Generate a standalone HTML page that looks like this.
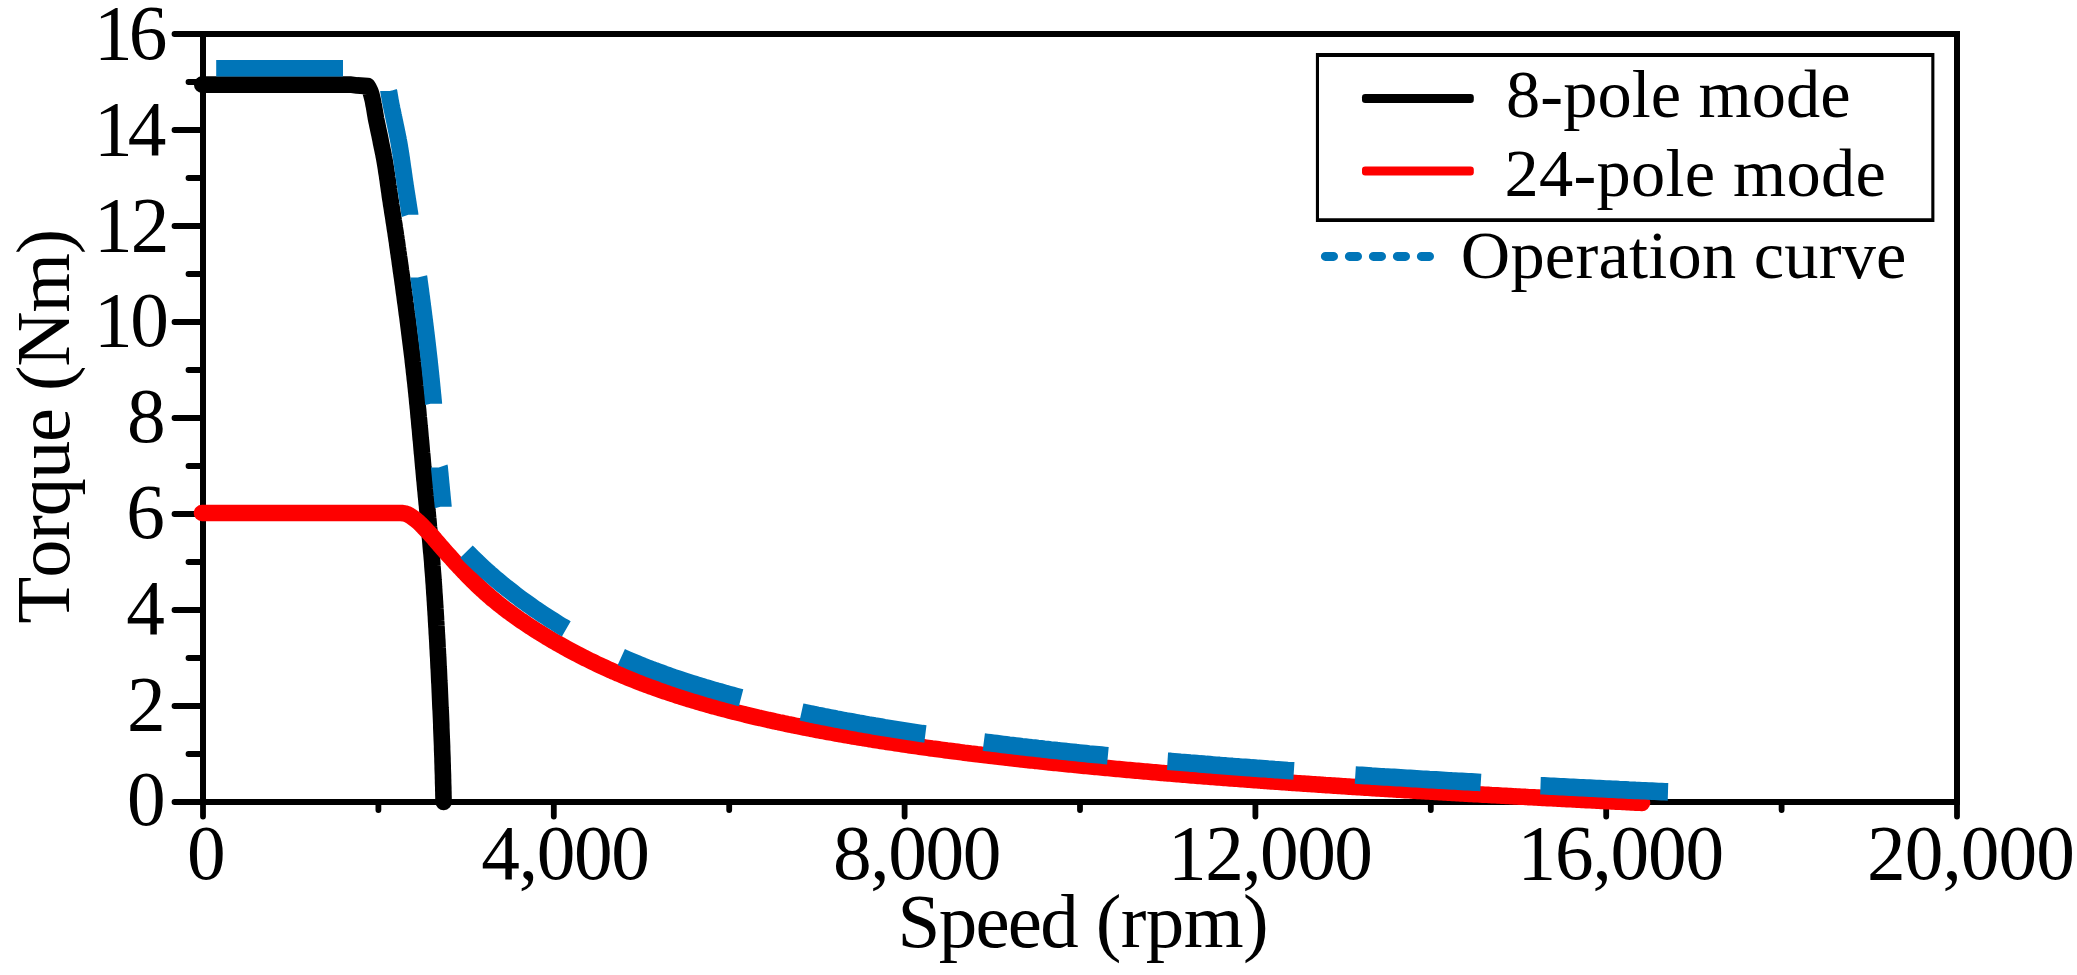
<!DOCTYPE html>
<html lang="en">
<head>
<meta charset="utf-8">
<title>Torque-speed curves</title>
<style>
html,body{margin:0;padding:0;background:#fff;}
body{width:2077px;height:975px;overflow:hidden;}
svg{display:block;}
</style>
</head>
<body>
<svg width="2077" height="975" viewBox="0 0 2077 975" role="img" aria-label="Torque versus speed for 8-pole mode, 24-pole mode and operation curve">
<rect width="2077" height="975" fill="#fff"/>
<g fill="none" stroke="#000">
<rect x="203.0" y="34.0" width="1754.0" height="768.0" stroke-width="6.0"/>
<path d="M203.0,802.0H174.5M203.0,754.0H188.5M203.0,706.0H174.5M203.0,658.0H188.5M203.0,610.0H174.5M203.0,562.0H188.5M203.0,514.0H174.5M203.0,466.0H188.5M203.0,418.0H174.5M203.0,370.0H188.5M203.0,322.0H174.5M203.0,274.0H188.5M203.0,226.0H174.5M203.0,178.0H188.5M203.0,130.0H174.5M203.0,82.0H188.5M203.0,34.0H174.5M203.0,802.0V816.5M378.4,802.0V810.0M553.8,802.0V816.5M729.2,802.0V810.0M904.6,802.0V816.5M1080.0,802.0V810.0M1255.4,802.0V816.5M1430.8,802.0V810.0M1606.2,802.0V816.5M1781.6,802.0V810.0M1957.0,802.0V816.5" stroke-width="5.8" stroke-linecap="round"/>
</g>
<g fill="none" stroke-linejoin="round">
<path d="M202.2,84.6 L350.0,84.6 L357.0,85.4 L367.6,86.1 L368.8,88.2 L369.9,90.4 L370.8,92.6 L371.4,94.8 L372.0,97.1 L372.6,99.5 L373.1,101.8 L373.5,104.2 L374.0,106.6 L374.4,109.0 L374.8,111.4 L375.2,113.8 L375.6,116.2 L376.0,118.6 L376.5,121.0 L377.0,123.3 L377.5,125.7 L378.0,128.1 L378.5,130.4 L379.0,132.8 L379.5,135.1 L380.0,137.5 L380.5,139.9 L380.9,142.2 L381.4,144.6 L381.9,147.0 L382.4,149.3 L382.9,151.7 L383.4,154.0 L383.8,156.4 L384.3,158.8 L384.7,161.2 L385.1,163.5 L385.5,165.9 L385.9,168.3 L386.2,170.7 L386.6,173.1 L387.0,175.4 L387.3,177.8 L387.7,180.2 L388.0,182.6 L388.3,185.0 L388.7,187.4 L389.0,189.8 L389.4,192.2 L389.7,194.6 L390.0,196.9 L390.4,199.3 L390.8,201.7 L391.1,204.1 L391.5,206.5 L391.9,208.9 L392.2,211.2 L392.6,213.6 L393.0,216.0 L393.4,218.4 L393.7,220.8 L394.1,223.2 L394.5,225.5 L394.8,227.9 L395.2,230.3 L395.6,232.7 L395.9,235.1 L396.3,237.5 L396.6,239.9 L397.0,242.2 L397.3,244.6 L397.6,247.0 L398.0,249.4 L398.3,251.8 L398.7,254.2 L399.0,256.6 L399.4,259.0 L399.7,261.3 L400.0,263.7 L400.4,266.1 L400.7,268.5 L401.0,270.9 L401.4,273.3 L401.7,275.7 L402.1,278.1 L402.4,280.5 L402.7,282.8 L403.1,285.2 L403.4,287.6 L403.7,290.0 L404.0,292.4 L404.4,294.8 L404.7,297.2 L405.0,299.6 L405.3,302.0 L405.7,304.4 L406.0,306.8 L406.3,309.1 L406.6,311.5 L406.9,313.9 L407.3,316.3 L407.6,318.7 L407.9,321.1 L408.2,323.5 L408.5,325.9 L408.8,328.3 L409.1,330.7 L409.4,333.1 L409.7,335.5 L410.0,337.9 L410.3,340.2 L410.6,342.6 L410.9,345.0 L411.2,347.4 L411.5,349.8 L411.8,352.2 L412.1,354.6 L412.4,357.0 L412.7,359.4 L412.9,361.8 L413.2,364.2 L413.5,366.6 L413.8,369.0 L414.0,371.4 L414.3,373.8 L414.6,376.2 L414.8,378.6 L415.1,381.0 L415.4,383.4 L415.6,385.8 L415.9,388.2 L416.1,390.6 L416.4,393.0 L416.6,395.4 L416.9,397.8 L417.1,400.2 L417.3,402.6 L417.6,405.0 L417.8,407.4 L418.1,409.8 L418.3,412.2 L418.5,414.6 L418.7,417.0 L419.0,419.4 L419.2,421.8 L419.4,424.2 L419.6,426.6 L419.9,429.0 L420.1,431.4 L420.3,433.8 L420.5,436.2 L420.7,438.6 L421.0,441.0 L421.2,443.4 L421.4,445.8 L421.6,448.2 L421.8,450.6 L422.0,453.0 L422.3,455.4 L422.5,457.8 L422.7,460.2 L422.9,462.6 L423.1,465.0 L423.3,467.4 L423.6,469.8 L423.8,472.2 L424.0,474.6 L424.2,477.0 L424.4,479.4 L424.7,481.8 L424.9,484.2 L425.1,486.6 L425.3,489.0 L425.6,491.4 L425.8,493.8 L426.0,496.2 L426.3,498.6 L426.5,501.0 L426.7,503.4 L427.0,505.8 L427.2,508.2 L427.4,510.6 L427.7,513.0 L427.9,515.4 L428.1,517.8 L428.4,520.3 L428.6,522.7 L428.8,525.1 L429.0,527.5 L429.3,529.9 L429.5,532.3 L429.7,534.7 L429.9,537.1 L430.2,539.5 L430.4,541.9 L430.6,544.3 L430.8,546.7 L431.0,549.1 L431.2,551.5 L431.5,553.9 L431.7,556.3 L431.9,558.7 L432.1,561.1 L432.3,563.5 L432.4,565.9 L432.6,568.3 L432.8,570.7 L433.0,573.1 L433.2,575.5 L433.4,577.9 L433.5,580.3 L433.7,582.7 L433.9,585.1 L434.0,587.5 L434.2,589.9 L434.3,592.4 L434.5,594.8 L434.7,597.2 L434.8,599.6 L435.0,602.0 L435.1,604.4 L435.3,606.8 L435.4,609.2 L435.6,611.6 L435.7,614.0 L435.9,616.4 L436.0,618.8 L436.1,621.2 L436.3,623.7 L436.4,626.1 L436.6,628.5 L436.7,630.9 L436.8,633.3 L437.0,635.7 L437.1,638.1 L437.3,640.5 L437.4,642.9 L437.5,645.3 L437.6,647.7 L437.8,650.1 L437.9,652.6 L438.0,655.0 L438.2,657.4 L438.3,659.8 L438.4,662.2 L438.5,664.6 L438.6,667.0 L438.8,669.4 L438.9,671.8 L439.0,674.2 L439.1,676.7 L439.2,679.1 L439.3,681.5 L439.5,683.9 L439.6,686.3 L439.7,688.7 L439.8,691.1 L439.9,693.5 L440.0,695.9 L440.1,698.3 L440.2,700.7 L440.3,703.2 L440.4,705.6 L440.5,708.0 L440.7,710.4 L440.8,712.8 L440.9,715.2 L441.0,717.6 L441.1,720.0 L441.2,722.4 L441.3,724.8 L441.3,727.3 L441.4,729.7 L441.5,732.1 L441.6,734.5 L441.7,736.9 L441.8,739.3 L441.9,741.7 L442.0,744.1 L442.1,746.5 L442.1,749.0 L442.2,751.4 L442.3,753.8 L442.4,756.2 L442.5,758.6 L442.5,761.0 L442.6,763.4 L442.7,765.8 L442.7,768.2 L442.8,770.7 L442.9,773.1 L443.0,775.5 L443.0,777.9 L443.1,780.3 L443.1,782.7 L443.2,785.1 L443.3,787.5 L443.3,789.9 L443.4,792.4 L443.4,794.8 L443.5,797.2 L443.5,799.6 L443.6,802.0" stroke="#000" stroke-width="16.6" stroke-linecap="round"/>
<path d="M202.0,513.0 L204.2,513.0 L206.3,513.0 L208.5,513.0 L210.6,513.0 L212.8,513.0 L214.9,513.0 L217.1,513.0 L219.3,513.0 L221.4,513.0 L223.6,513.0 L225.7,513.0 L227.9,513.0 L230.1,513.0 L232.2,513.0 L234.4,513.0 L236.5,513.0 L238.7,513.0 L240.8,513.0 L243.0,513.0 L245.2,513.0 L247.3,513.0 L249.5,513.0 L251.6,513.0 L253.8,513.0 L255.9,513.0 L258.1,513.0 L260.3,513.0 L262.4,513.0 L264.6,513.0 L266.7,513.0 L268.9,513.0 L271.1,513.0 L273.2,513.0 L275.4,513.0 L277.5,513.0 L279.7,513.0 L281.8,513.0 L284.0,513.0 L286.2,513.0 L288.3,513.0 L290.5,513.0 L292.6,513.0 L294.8,513.0 L297.0,513.0 L299.1,513.0 L301.3,513.0 L303.4,513.0 L305.6,513.0 L307.7,513.0 L309.9,513.0 L312.1,513.0 L314.2,513.0 L316.4,513.0 L318.5,513.0 L320.7,513.0 L322.9,513.0 L325.0,513.0 L327.2,513.0 L329.3,513.0 L331.5,513.0 L333.6,513.0 L335.8,513.0 L338.0,513.0 L340.1,513.0 L342.3,513.0 L344.4,513.0 L346.6,513.0 L348.8,513.0 L350.9,513.0 L353.1,513.0 L355.2,513.0 L357.4,513.0 L359.6,513.0 L361.7,513.0 L363.9,513.0 L366.0,513.0 L368.2,513.0 L370.3,513.0 L372.5,513.0 L374.7,513.0 L376.8,513.0 L379.0,513.0 L381.1,513.0 L383.3,513.0 L385.4,513.0 L387.6,513.0 L389.8,513.0 L391.9,513.0 L394.1,513.0 L396.2,513.0 L398.4,513.0 L400.5,513.0 L402.7,513.1 L404.8,513.4 L406.9,514.1 L408.8,515.0 L410.7,516.1 L412.5,517.3 L414.2,518.6 L415.9,519.9 L417.6,521.3 L419.2,522.8 L420.7,524.2 L422.3,525.8 L423.7,527.4 L425.2,528.9 L426.7,530.5 L428.2,532.0 L429.7,533.6 L431.2,535.2 L432.6,536.8 L434.0,538.4 L435.4,540.1 L436.8,541.7 L438.2,543.3 L439.6,545.0 L441.0,546.6 L442.5,548.2 L443.9,549.9 L445.3,551.5 L446.7,553.1 L448.2,554.7 L449.6,556.3 L451.1,557.9 L452.5,559.5 L453.9,561.1 L455.4,562.7 L456.9,564.3 L458.3,565.9 L459.8,567.5 L461.3,569.0 L462.8,570.6 L464.3,572.2 L465.8,573.7 L467.3,575.3 L468.8,576.8 L470.3,578.3 L471.8,579.9 L473.4,581.4 L474.9,582.9 L476.4,584.4 L478.0,585.9 L479.6,587.4 L481.2,588.8 L482.7,590.3 L484.3,591.8 L485.9,593.2 L487.5,594.6 L489.2,596.0 L490.8,597.5 L492.4,598.9 L494.1,600.2 L495.8,601.6 L497.4,603.0 L499.1,604.3 L500.8,605.7 L502.5,607.0 L504.2,608.3 L505.9,609.7 L507.6,611.0 L509.4,612.2 L511.1,613.5 L512.9,614.8 L514.6,616.0 L516.4,617.3 L518.1,618.5 L519.9,619.8 L521.7,621.0 L523.5,622.2 L525.3,623.4 L527.1,624.6 L528.9,625.8 L530.7,627.0 L532.5,628.1 L534.3,629.3 L536.1,630.5 L537.9,631.6 L539.8,632.8 L541.6,633.9 L543.5,635.0 L545.3,636.1 L547.1,637.3 L549.0,638.4 L550.9,639.5 L552.7,640.6 L554.6,641.6 L556.4,642.7 L558.3,643.8 L560.2,644.9 L562.1,645.9 L564.0,647.0 L565.8,648.0 L567.7,649.1 L569.6,650.1 L571.5,651.1 L573.4,652.1 L575.3,653.1 L577.3,654.1 L579.2,655.1 L581.1,656.1 L583.0,657.1 L584.9,658.1 L586.9,659.0 L588.8,660.0 L590.7,661.0 L592.7,661.9 L594.6,662.8 L596.6,663.8 L598.5,664.7 L600.5,665.6 L602.4,666.5 L604.4,667.4 L606.3,668.3 L608.3,669.2 L610.3,670.1 L612.3,671.0 L614.2,671.8 L616.2,672.7 L618.2,673.6 L620.2,674.4 L622.2,675.2 L624.2,676.1 L626.1,676.9 L628.1,677.7 L630.1,678.5 L632.1,679.3 L634.1,680.1 L636.2,680.9 L638.2,681.7 L640.2,682.5 L642.2,683.3 L644.2,684.0 L646.2,684.8 L648.3,685.5 L650.3,686.3 L652.3,687.0 L654.3,687.7 L656.4,688.5 L658.4,689.2 L660.4,689.9 L662.5,690.6 L664.5,691.3 L666.6,692.0 L668.6,692.7 L670.7,693.4 L672.7,694.0 L674.8,694.7 L676.8,695.4 L678.9,696.0 L680.9,696.7 L683.0,697.3 L685.0,698.0 L687.1,698.6 L689.2,699.3 L691.2,699.9 L693.3,700.5 L695.4,701.1 L697.4,701.7 L699.5,702.3 L701.6,702.9 L703.7,703.5 L705.7,704.1 L707.8,704.7 L709.9,705.3 L712.0,705.9 L714.0,706.5 L716.1,707.0 L718.2,707.6 L720.3,708.2 L722.4,708.7 L724.5,709.3 L726.6,709.8 L728.6,710.4 L730.7,710.9 L732.8,711.4 L734.9,712.0 L737.0,712.5 L739.1,713.0 L741.2,713.5 L743.3,714.0 L745.4,714.6 L747.5,715.1 L749.6,715.6 L751.7,716.1 L753.8,716.6 L755.9,717.1 L758.0,717.6 L760.1,718.0 L762.2,718.5 L764.3,719.0 L766.4,719.5 L768.5,720.0 L770.6,720.4 L772.7,720.9 L774.8,721.4 L776.9,721.8 L779.0,722.3 L781.1,722.7 L783.3,723.2 L785.4,723.6 L787.5,724.1 L789.6,724.5 L791.7,724.9 L793.8,725.4 L795.9,725.8 L798.0,726.2 L800.2,726.7 L802.3,727.1 L804.4,727.5 L806.5,727.9 L808.6,728.3 L810.7,728.8 L812.9,729.2 L815.0,729.6 L817.1,730.0 L819.2,730.4 L821.3,730.8 L823.5,731.2 L825.6,731.6 L827.7,732.0 L829.8,732.3 L832.0,732.7 L834.1,733.1 L836.2,733.5 L838.3,733.9 L840.5,734.3 L842.6,734.6 L844.7,735.0 L846.8,735.4 L849.0,735.7 L851.1,736.1 L853.2,736.5 L855.3,736.8 L857.5,737.2 L859.6,737.5 L861.7,737.9 L863.9,738.2 L866.0,738.6 L868.1,738.9 L870.2,739.3 L872.4,739.6 L874.5,740.0 L876.6,740.3 L878.8,740.6 L880.9,741.0 L883.0,741.3 L885.2,741.6 L887.3,742.0 L889.4,742.3 L891.6,742.6 L893.7,742.9 L895.8,743.3 L898.0,743.6 L900.1,743.9 L902.2,744.2 L904.4,744.5 L906.5,744.8 L908.6,745.2 L910.8,745.5 L912.9,745.8 L915.1,746.1 L917.2,746.4 L919.3,746.7 L921.5,747.0 L923.6,747.3 L925.7,747.6 L927.9,747.9 L930.0,748.2 L932.1,748.5 L934.3,748.7 L936.4,749.0 L938.6,749.3 L940.7,749.6 L942.8,749.9 L945.0,750.2 L947.1,750.5 L949.3,750.7 L951.4,751.0 L953.5,751.3 L955.7,751.6 L957.8,751.8 L960.0,752.1 L962.1,752.4 L964.2,752.7 L966.4,752.9 L968.5,753.2 L970.7,753.5 L972.8,753.7 L975.0,754.0 L977.1,754.3 L979.2,754.5 L981.4,754.8 L983.5,755.0 L985.7,755.3 L987.8,755.5 L989.9,755.8 L992.1,756.1 L994.2,756.3 L996.4,756.6 L998.5,756.8 L1000.7,757.1 L1002.8,757.3 L1005.0,757.5 L1007.1,757.8 L1009.2,758.0 L1011.4,758.3 L1013.5,758.5 L1015.7,758.8 L1017.8,759.0 L1020.0,759.2 L1022.1,759.5 L1024.3,759.7 L1026.4,759.9 L1028.5,760.2 L1030.7,760.4 L1032.8,760.6 L1035.0,760.9 L1037.1,761.1 L1039.3,761.3 L1041.4,761.6 L1043.6,761.8 L1045.7,762.0 L1047.9,762.2 L1050.0,762.5 L1052.2,762.7 L1054.3,762.9 L1056.4,763.1 L1058.6,763.3 L1060.7,763.6 L1062.9,763.8 L1065.0,764.0 L1067.2,764.2 L1069.3,764.4 L1071.5,764.6 L1073.6,764.8 L1075.8,765.1 L1077.9,765.3 L1080.1,765.5 L1082.2,765.7 L1084.4,765.9 L1086.5,766.1 L1088.7,766.3 L1090.8,766.5 L1093.0,766.7 L1095.1,766.9 L1097.2,767.1 L1099.4,767.3 L1101.5,767.5 L1103.7,767.7 L1105.8,767.9 L1108.0,768.1 L1110.1,768.3 L1112.3,768.5 L1114.4,768.7 L1116.6,768.9 L1118.7,769.1 L1120.9,769.3 L1123.0,769.5 L1125.2,769.7 L1127.3,769.9 L1129.5,770.1 L1131.6,770.3 L1133.8,770.5 L1135.9,770.7 L1138.1,770.8 L1140.2,771.0 L1142.4,771.2 L1144.5,771.4 L1146.7,771.6 L1148.8,771.8 L1151.0,772.0 L1153.1,772.2 L1155.3,772.3 L1157.4,772.5 L1159.6,772.7 L1161.7,772.9 L1163.9,773.1 L1166.0,773.2 L1168.2,773.4 L1170.3,773.6 L1172.5,773.8 L1174.6,774.0 L1176.8,774.1 L1178.9,774.3 L1181.1,774.5 L1183.2,774.7 L1185.4,774.8 L1187.5,775.0 L1189.7,775.2 L1191.8,775.4 L1194.0,775.5 L1196.1,775.7 L1198.3,775.9 L1200.4,776.0 L1202.6,776.2 L1204.7,776.4 L1206.9,776.5 L1209.1,776.7 L1211.2,776.9 L1213.4,777.0 L1215.5,777.2 L1217.7,777.4 L1219.8,777.5 L1222.0,777.7 L1224.1,777.9 L1226.3,778.0 L1228.4,778.2 L1230.6,778.4 L1232.7,778.5 L1234.9,778.7 L1237.0,778.8 L1239.2,779.0 L1241.3,779.2 L1243.5,779.3 L1245.6,779.5 L1247.8,779.6 L1249.9,779.8 L1252.1,780.0 L1254.2,780.1 L1256.4,780.3 L1258.5,780.4 L1260.7,780.6 L1262.9,780.7 L1265.0,780.9 L1267.2,781.1 L1269.3,781.2 L1271.5,781.4 L1273.6,781.5 L1275.8,781.7 L1277.9,781.8 L1280.1,782.0 L1282.2,782.1 L1284.4,782.3 L1286.5,782.4 L1288.7,782.6 L1290.8,782.7 L1293.0,782.9 L1295.1,783.0 L1297.3,783.2 L1299.4,783.3 L1301.6,783.5 L1303.8,783.6 L1305.9,783.8 L1308.1,783.9 L1310.2,784.0 L1312.4,784.2 L1314.5,784.3 L1316.7,784.5 L1318.8,784.6 L1321.0,784.8 L1323.1,784.9 L1325.3,785.1 L1327.4,785.2 L1329.6,785.3 L1331.7,785.5 L1333.9,785.6 L1336.1,785.8 L1338.2,785.9 L1340.4,786.0 L1342.5,786.2 L1344.7,786.3 L1346.8,786.5 L1349.0,786.6 L1351.1,786.7 L1353.3,786.9 L1355.4,787.0 L1357.6,787.2 L1359.7,787.3 L1361.9,787.4 L1364.0,787.6 L1366.2,787.7 L1368.4,787.8 L1370.5,788.0 L1372.7,788.1 L1374.8,788.2 L1377.0,788.4 L1379.1,788.5 L1381.3,788.6 L1383.4,788.8 L1385.6,788.9 L1387.7,789.0 L1389.9,789.2 L1392.0,789.3 L1394.2,789.4 L1396.4,789.6 L1398.5,789.7 L1400.7,789.8 L1402.8,790.0 L1405.0,790.1 L1407.1,790.2 L1409.3,790.3 L1411.4,790.5 L1413.6,790.6 L1415.7,790.7 L1417.9,790.9 L1420.0,791.0 L1422.2,791.1 L1424.4,791.2 L1426.5,791.4 L1428.7,791.5 L1430.8,791.6 L1433.0,791.8 L1435.1,791.9 L1437.3,792.0 L1439.4,792.1 L1441.6,792.3 L1443.7,792.4 L1445.9,792.5 L1448.1,792.6 L1450.2,792.8 L1452.4,792.9 L1454.5,793.0 L1456.7,793.1 L1458.8,793.2 L1461.0,793.4 L1463.1,793.5 L1465.3,793.6 L1467.4,793.7 L1469.6,793.9 L1471.8,794.0 L1473.9,794.1 L1476.1,794.2 L1478.2,794.3 L1480.4,794.5 L1482.5,794.6 L1484.7,794.7 L1486.8,794.8 L1489.0,794.9 L1491.1,795.1 L1493.3,795.2 L1495.5,795.3 L1497.6,795.4 L1499.8,795.5 L1501.9,795.7 L1504.1,795.8 L1506.2,795.9 L1508.4,796.0 L1510.5,796.1 L1512.7,796.2 L1514.8,796.4 L1517.0,796.5 L1519.2,796.6 L1521.3,796.7 L1523.5,796.8 L1525.6,796.9 L1527.8,797.1 L1529.9,797.2 L1532.1,797.3 L1534.2,797.4 L1536.4,797.5 L1538.6,797.6 L1540.7,797.7 L1542.9,797.9 L1545.0,798.0 L1547.2,798.1 L1549.3,798.2 L1551.5,798.3 L1553.6,798.4 L1555.8,798.5 L1557.9,798.6 L1560.1,798.8 L1562.3,798.9 L1564.4,799.0 L1566.6,799.1 L1568.7,799.2 L1570.9,799.3 L1573.0,799.4 L1575.2,799.5 L1577.3,799.7 L1579.5,799.8 L1581.7,799.9 L1583.8,800.0 L1586.0,800.1 L1588.1,800.2 L1590.3,800.3 L1592.4,800.4 L1594.6,800.5 L1596.7,800.6 L1598.9,800.8 L1601.0,800.9 L1603.2,801.0 L1605.4,801.1 L1607.5,801.2 L1609.7,801.3 L1611.8,801.4 L1614.0,801.5 L1616.1,801.6 L1618.3,801.7 L1620.4,801.8 L1622.6,801.9 L1624.8,802.0 L1626.9,802.1 L1629.1,802.3 L1631.2,802.4 L1633.4,802.5 L1635.5,802.6 L1637.7,802.7 L1639.8,802.8 L1642.0,802.9" stroke="#fe0000" stroke-width="16.6" stroke-linecap="round"/>
<path d="M216.2,68.2 L343.0,68.2" stroke="#0075b8" stroke-width="16.6"/>
<path d="M388.7,90.9 L388.7,91.2 L388.8,91.6 L388.9,91.9 L388.9,92.3 L389.0,92.6 L389.0,93.0 L389.1,93.4 L389.2,93.7 L389.2,94.1 L389.3,94.4 L389.3,94.8 L389.4,95.2 L389.5,95.5 L389.5,95.9 L389.6,96.2 L389.6,96.6 L389.7,97.0 L389.8,97.3 L389.8,97.7 L389.9,98.0 L390.0,98.4 L390.0,98.8 L390.1,99.1 L390.1,99.5 L390.2,99.8 L390.3,100.2 L390.3,100.6 L390.4,100.9 L390.5,101.3 L390.5,101.6 L390.6,102.0 L390.7,102.3 L390.7,102.7 L390.8,103.1 L390.9,103.4 L390.9,103.8 L391.0,104.1 L391.1,104.5 L391.1,104.8 L391.2,105.2 L391.3,105.5 L391.4,105.9 L391.4,106.2 L391.5,106.6 L391.6,107.0 L391.7,107.3 L391.7,107.7 L391.8,108.0 L391.9,108.4 L392.0,108.7 L392.0,109.1 L392.1,109.4 L392.2,109.8 L392.3,110.1 L392.3,110.5 L392.4,110.8 L392.5,111.2 L392.6,111.5 L392.6,111.9 L392.7,112.2 L392.8,112.6 L392.9,113.0 L392.9,113.3 L393.0,113.7 L393.1,114.0 L393.1,114.4 L393.2,114.7 L393.3,115.1 L393.4,115.4 L393.4,115.8 L393.5,116.1 L393.6,116.5 L393.7,116.8 L393.7,117.2 L393.8,117.5 L393.9,117.9 L394.0,118.2 L394.0,118.6 L394.1,119.0 L394.2,119.3 L394.3,119.7 L394.3,120.0 L394.4,120.4 L394.5,120.7 L394.6,121.1 L394.6,121.4 L394.7,121.8 L394.8,122.1 L394.9,122.5 L394.9,122.8 L395.0,123.2 L395.1,123.5 L395.1,123.9 L395.2,124.3 L395.3,124.6 L395.4,125.0 L395.4,125.3 L395.5,125.7 L395.6,126.0 L395.7,126.4 L395.7,126.7 L395.8,127.1 L395.9,127.4 L396.0,127.8 L396.0,128.1 L396.1,128.5 L396.2,128.8 L396.2,129.2 L396.3,129.6 L396.4,129.9 L396.5,130.3 L396.5,130.6 L396.6,131.0 L396.7,131.3 L396.8,131.7 L396.8,132.0 L396.9,132.4 L397.0,132.7 L397.1,133.1 L397.1,133.4 L397.2,133.8 L397.3,134.1 L397.3,134.5 L397.4,134.9 L397.5,135.2 L397.6,135.6 L397.6,135.9 L397.7,136.3 L397.8,136.6 L397.8,137.0 L397.9,137.3 L398.0,137.7 L398.1,138.0 L398.1,138.4 L398.2,138.7 L398.3,139.1 L398.3,139.5 L398.4,139.8 L398.5,140.2 L398.5,140.5 L398.6,140.9 L398.7,141.2 L398.7,141.6 L398.8,141.9 L398.9,142.3 L398.9,142.6 L399.0,143.0 L399.1,143.4 L399.1,143.7 L399.2,144.1 L399.2,144.4 L399.3,144.8 L399.4,145.1 L399.4,145.5 L399.5,145.8 L399.5,146.2 L399.6,146.6 L399.7,146.9 L399.7,147.3 L399.8,147.6 L399.8,148.0 L399.9,148.3 L400.0,148.7 L400.0,149.0 L400.1,149.4 L400.1,149.8 L400.2,150.1 L400.2,150.5 L400.3,150.8 L400.4,151.2 L400.4,151.5 L400.5,151.9 L400.5,152.2 L400.6,152.6 L400.6,153.0 L400.7,153.3 L400.8,153.7 L400.8,154.0 L400.9,154.4 L400.9,154.7 L401.0,155.1 L401.0,155.5 L401.1,155.8 L401.1,156.2 L401.2,156.5 L401.2,156.9 L401.3,157.2 L401.3,157.6 L401.4,158.0 L401.5,158.3 L401.5,158.7 L401.6,159.0 L401.6,159.4 L401.7,159.7 L401.7,160.1 L401.8,160.5 L401.8,160.8 L401.9,161.2 L401.9,161.5 L402.0,161.9 L402.0,162.2 L402.1,162.6 L402.1,163.0 L402.2,163.3 L402.2,163.7 L402.3,164.0 L402.3,164.4 L402.4,164.7 L402.4,165.1 L402.5,165.5 L402.5,165.8 L402.6,166.2 L402.6,166.5 L402.7,166.9 L402.7,167.2 L402.8,167.6 L402.8,168.0 L402.9,168.3 L402.9,168.7 L403.0,169.0 L403.0,169.4 L403.1,169.7 L403.2,170.1 L403.2,170.5 L403.3,170.8 L403.3,171.2 L403.4,171.5 L403.4,171.9 L403.5,172.2 L403.5,172.6 L403.6,173.0 L403.6,173.3 L403.7,173.7 L403.7,174.0 L403.8,174.4 L403.8,174.7 L403.9,175.1 L403.9,175.5 L404.0,175.8 L404.0,176.2 L404.1,176.5 L404.1,176.9 L404.2,177.2 L404.2,177.6 L404.3,178.0 L404.3,178.3 L404.4,178.7 L404.4,179.0 L404.5,179.4 L404.5,179.7 L404.6,180.1 L404.6,180.5 L404.7,180.8 L404.7,181.2 L404.8,181.5 L404.8,181.9 L404.9,182.2 L404.9,182.6 L405.0,183.0 L405.1,183.3 L405.1,183.7 L405.2,184.0 L405.2,184.4 L405.3,184.7 L405.3,185.1 L405.4,185.5 L405.4,185.8 L405.5,186.2 L405.5,186.5 L405.6,186.9 L405.7,187.2 L405.7,187.6 L405.8,188.0 L405.8,188.3 L405.9,188.7 L405.9,189.0 L406.0,189.4 L406.0,189.7 L406.1,190.1 L406.1,190.4 L406.2,190.8 L406.3,191.2 L406.3,191.5 L406.4,191.9 L406.4,192.2 L406.5,192.6 L406.5,192.9 L406.6,193.3 L406.6,193.7 L406.7,194.0 L406.8,194.4 L406.8,194.7 L406.9,195.1 L406.9,195.4 L407.0,195.8 L407.0,196.2 L407.1,196.5 L407.2,196.9 L407.2,197.2 L407.3,197.6 L407.3,197.9 L407.4,198.3 L407.4,198.6 L407.5,199.0 L407.5,199.4 L407.6,199.7 L407.7,200.1 L407.7,200.4 L407.8,200.8 L407.8,201.1 L407.9,201.5 L407.9,201.9 L408.0,202.2 L408.1,202.6 L408.1,202.9 L408.2,203.3 L408.2,203.6 L408.3,204.0 L408.3,204.3 L408.4,204.7 L408.4,205.1 L408.5,205.4 L408.6,205.8 L408.6,206.1 L408.7,206.5 L408.7,206.8 L408.8,207.2 L408.8,207.6 L408.9,207.9 L408.9,208.3 L409.0,208.6 L409.1,209.0 L409.1,209.3 L409.2,209.7 L409.2,210.1 L409.3,210.4 L409.3,210.8 L409.4,211.1 L409.4,211.5 L409.5,211.8 L409.5,212.2 L409.6,212.5 L409.7,212.9 L409.7,213.3 L409.8,213.6 L409.8,214.0 L409.9,214.3 L409.9,214.7 M418.8,277.2 L418.9,277.6 L418.9,277.9 L419.0,278.3 L419.0,278.6 L419.1,279.0 L419.1,279.4 L419.2,279.7 L419.2,280.1 L419.2,280.4 L419.3,280.8 L419.3,281.1 L419.4,281.5 L419.4,281.9 L419.5,282.2 L419.5,282.6 L419.6,282.9 L419.6,283.3 L419.7,283.6 L419.7,284.0 L419.8,284.4 L419.8,284.7 L419.9,285.1 L419.9,285.4 L420.0,285.8 L420.0,286.1 L420.1,286.5 L420.1,286.9 L420.2,287.2 L420.2,287.6 L420.3,287.9 L420.3,288.3 L420.4,288.7 L420.4,289.0 L420.5,289.4 L420.5,289.7 L420.6,290.1 L420.6,290.4 L420.7,290.8 L420.7,291.2 L420.7,291.5 L420.8,291.9 L420.8,292.2 L420.9,292.6 L420.9,292.9 L421.0,293.3 L421.0,293.7 L421.1,294.0 L421.1,294.4 L421.2,294.7 L421.2,295.1 L421.3,295.4 L421.3,295.8 L421.4,296.2 L421.4,296.5 L421.5,296.9 L421.5,297.2 L421.6,297.6 L421.6,298.0 L421.7,298.3 L421.7,298.7 L421.7,299.0 L421.8,299.4 L421.8,299.7 L421.9,300.1 L421.9,300.5 L422.0,300.8 L422.0,301.2 L422.1,301.5 L422.1,301.9 L422.2,302.2 L422.2,302.6 L422.3,303.0 L422.3,303.3 L422.4,303.7 L422.4,304.0 L422.5,304.4 L422.5,304.7 L422.5,305.1 L422.6,305.5 L422.6,305.8 L422.7,306.2 L422.7,306.5 L422.8,306.9 L422.8,307.3 L422.9,307.6 L422.9,308.0 L423.0,308.3 L423.0,308.7 L423.1,309.0 L423.1,309.4 L423.1,309.8 L423.2,310.1 L423.2,310.5 L423.3,310.8 L423.3,311.2 L423.4,311.5 L423.4,311.9 L423.5,312.3 L423.5,312.6 L423.6,313.0 L423.6,313.3 L423.7,313.7 L423.7,314.1 L423.7,314.4 L423.8,314.8 L423.8,315.1 L423.9,315.5 L423.9,315.8 L424.0,316.2 L424.0,316.6 L424.1,316.9 L424.1,317.3 L424.2,317.6 L424.2,318.0 L424.2,318.3 L424.3,318.7 L424.3,319.1 L424.4,319.4 L424.4,319.8 L424.5,320.1 L424.5,320.5 L424.6,320.9 L424.6,321.2 L424.7,321.6 L424.7,321.9 L424.7,322.3 L424.8,322.6 L424.8,323.0 L424.9,323.4 L424.9,323.7 L425.0,324.1 L425.0,324.4 L425.1,324.8 L425.1,325.2 L425.1,325.5 L425.2,325.9 L425.2,326.2 L425.3,326.6 L425.3,326.9 L425.4,327.3 L425.4,327.7 L425.5,328.0 L425.5,328.4 L425.5,328.7 L425.6,329.1 L425.6,329.4 L425.7,329.8 L425.7,330.2 L425.8,330.5 L425.8,330.9 L425.8,331.2 L425.9,331.6 L425.9,332.0 L426.0,332.3 L426.0,332.7 L426.1,333.0 L426.1,333.4 L426.2,333.7 L426.2,334.1 L426.2,334.5 L426.3,334.8 L426.3,335.2 L426.4,335.5 L426.4,335.9 L426.5,336.3 L426.5,336.6 L426.5,337.0 L426.6,337.3 L426.6,337.7 L426.7,338.0 L426.7,338.4 L426.8,338.8 L426.8,339.1 L426.8,339.5 L426.9,339.8 L426.9,340.2 L427.0,340.6 L427.0,340.9 L427.1,341.3 L427.1,341.6 L427.1,342.0 L427.2,342.3 L427.2,342.7 L427.3,343.1 L427.3,343.4 L427.4,343.8 L427.4,344.1 L427.4,344.5 L427.5,344.9 L427.5,345.2 L427.6,345.6 L427.6,345.9 L427.6,346.3 L427.7,346.6 L427.7,347.0 L427.8,347.4 L427.8,347.7 L427.9,348.1 L427.9,348.4 L427.9,348.8 L428.0,349.2 L428.0,349.5 L428.1,349.9 L428.1,350.2 L428.1,350.6 L428.2,350.9 L428.2,351.3 L428.3,351.7 L428.3,352.0 L428.3,352.4 L428.4,352.7 L428.4,353.1 L428.5,353.5 L428.5,353.8 L428.5,354.2 L428.6,354.5 L428.6,354.9 L428.7,355.2 L428.7,355.6 L428.8,356.0 L428.8,356.3 L428.8,356.7 L428.9,357.0 L428.9,357.4 L429.0,357.8 L429.0,358.1 L429.0,358.5 L429.1,358.8 L429.1,359.2 L429.2,359.5 L429.2,359.9 L429.2,360.3 L429.3,360.6 L429.3,361.0 L429.4,361.3 L429.4,361.7 L429.4,362.1 L429.5,362.4 L429.5,362.8 L429.5,363.1 L429.6,363.5 L429.6,363.8 L429.7,364.2 L429.7,364.6 L429.7,364.9 L429.8,365.3 L429.8,365.6 L429.9,366.0 L429.9,366.4 L429.9,366.7 L430.0,367.1 L430.0,367.4 L430.1,367.8 L430.1,368.1 L430.1,368.5 L430.2,368.9 L430.2,369.2 L430.2,369.6 L430.3,369.9 L430.3,370.3 L430.4,370.7 L430.4,371.0 L430.4,371.4 L430.5,371.7 L430.5,372.1 L430.5,372.5 L430.6,372.8 L430.6,373.2 L430.7,373.5 L430.7,373.9 L430.7,374.2 L430.8,374.6 L430.8,375.0 L430.8,375.3 L430.9,375.7 L430.9,376.0 L431.0,376.4 L431.0,376.8 L431.0,377.1 L431.1,377.5 L431.1,377.8 L431.1,378.2 L431.2,378.6 L431.2,378.9 L431.3,379.3 L431.3,379.6 L431.3,380.0 L431.4,380.3 L431.4,380.7 L431.4,381.1 L431.5,381.4 L431.5,381.8 L431.5,382.1 L431.6,382.5 L431.6,382.9 L431.7,383.2 L431.7,383.6 L431.7,383.9 L431.8,384.3 L431.8,384.7 L431.8,385.0 L431.9,385.4 L431.9,385.7 L431.9,386.1 L432.0,386.4 L432.0,386.8 L432.0,387.2 L432.1,387.5 L432.1,387.9 L432.2,388.2 L432.2,388.6 L432.2,389.0 L432.3,389.3 L432.3,389.7 L432.3,390.0 L432.4,390.4 L432.4,390.8 L432.4,391.1 L432.5,391.5 L432.5,391.8 L432.5,392.2 L432.6,392.6 L432.6,392.9 L432.6,393.3 L432.7,393.6 L432.7,394.0 L432.7,394.3 L432.8,394.7 L432.8,395.1 L432.9,395.4 L432.9,395.8 L432.9,396.1 L433.0,396.5 L433.0,396.9 L433.0,397.2 L433.1,397.6 L433.1,397.9 L433.1,398.3 L433.2,398.7 L433.2,399.0 L433.2,399.4 L433.3,399.7 L433.3,400.1 L433.3,400.5 L433.4,400.8 L433.4,401.2 L433.4,401.5 L433.5,401.9 L433.5,402.2 L433.5,402.6 L433.6,403.0 L433.6,403.3 L433.6,403.7 M439.4,467.3 L439.5,467.6 L439.5,468.0 L439.5,468.4 L439.6,468.7 L439.6,469.1 L439.6,469.4 L439.7,469.8 L439.7,470.2 L439.7,470.5 L439.8,470.9 L439.8,471.2 L439.8,471.6 L439.9,472.0 L439.9,472.3 L440.0,472.7 L440.0,473.0 L440.0,473.4 L440.1,473.8 L440.1,474.1 L440.1,474.5 L440.2,474.8 L440.2,475.2 L440.2,475.6 L440.3,475.9 L440.3,476.3 L440.3,476.6 L440.4,477.0 L440.4,477.3 L440.4,477.7 L440.5,478.1 L440.5,478.4 L440.5,478.8 L440.6,479.1 L440.6,479.5 L440.6,479.9 L440.7,480.2 L440.7,480.6 L440.7,480.9 L440.8,481.3 L440.8,481.7 L440.8,482.0 L440.9,482.4 L440.9,482.7 L440.9,483.1 L441.0,483.5 L441.0,483.8 L441.1,484.2 L441.1,484.5 L441.1,484.9 L441.2,485.3 L441.2,485.6 L441.2,486.0 L441.3,486.3 L441.3,486.7 L441.3,487.0 L441.4,487.4 L441.4,487.8 L441.4,488.1 L441.5,488.5 L441.5,488.8 L441.5,489.2 L441.6,489.6 L441.6,489.9 L441.6,490.3 L441.7,490.6 L441.7,491.0 L441.7,491.4 L441.8,491.7 L441.8,492.1 L441.9,492.4 L441.9,492.8 L441.9,493.2 L442.0,493.5 L442.0,493.9 L442.0,494.2 L442.1,494.6 L442.1,494.9 L442.1,495.3 L442.2,495.7 L442.2,496.0 L442.2,496.4 L442.3,496.7 L442.3,497.1 L442.3,497.5 L442.4,497.8 L442.4,498.2 L442.4,498.5 L442.5,498.9 L442.5,499.3 L442.5,499.6 L442.6,500.0 L442.6,500.3 L442.7,500.7 L442.7,501.1 L442.7,501.4 L442.8,501.8 L442.8,502.1 L442.8,502.5 L442.9,502.9 L442.9,503.2 L442.9,503.6 L443.0,503.9 L443.0,504.3 L443.0,504.6 L443.1,505.0 L443.1,505.4 L443.1,505.7 L443.2,506.1 L443.2,506.4 L443.2,506.8" stroke="#0075b8" stroke-width="17.0"/>
<path d="M466.5,551.6 L469.1,554.2 L471.6,556.8 L474.2,559.3 L476.7,561.8 L479.3,564.2 L481.9,566.6 L484.4,569.0 L487.0,571.3 L489.5,573.6 L492.1,575.8 L494.6,578.0 L497.2,580.2 L499.8,582.3 L502.3,584.4 L504.9,586.5 L507.4,588.6 L510.0,590.6 L512.6,592.6 L515.1,594.6 L517.7,596.5 L520.2,598.4 L522.8,600.3 L525.4,602.2 L527.9,604.0 L530.5,605.8 L533.0,607.6 L535.6,609.4 L538.2,611.1 L540.7,612.9 L543.3,614.6 L545.8,616.2 L548.4,617.9 L550.9,619.5 L553.5,621.1 L556.1,622.7 L558.6,624.3 L561.2,625.9 L563.7,627.4 L566.3,628.9 M621.3,657.1 L624.4,658.5 L627.4,659.8 L630.5,661.1 L633.6,662.4 L636.7,663.7 L639.7,664.9 L642.8,666.2 L645.9,667.4 L648.9,668.6 L652.0,669.7 L655.1,670.9 L658.2,672.0 L661.2,673.1 L664.3,674.3 L667.4,675.3 L670.4,676.4 L673.5,677.5 L676.6,678.5 L679.7,679.6 L682.7,680.6 L685.8,681.6 L688.9,682.6 L692.0,683.6 L695.0,684.5 L698.1,685.5 L701.2,686.4 L704.2,687.4 L707.3,688.3 L710.4,689.2 L713.5,690.1 L716.5,691.0 L719.6,691.8 L722.7,692.7 L725.7,693.6 L728.8,694.4 L731.9,695.2 L735.0,696.1 L738.0,696.9 L741.1,697.7 M801.5,712.0 L804.7,712.7 L807.9,713.3 L811.0,714.0 L814.2,714.6 L817.4,715.3 L820.6,715.9 L823.7,716.6 L826.9,717.2 L830.1,717.8 L833.3,718.4 L836.4,719.1 L839.6,719.7 L842.8,720.3 L846.0,720.9 L849.2,721.4 L852.3,722.0 L855.5,722.6 L858.7,723.2 L861.9,723.7 L865.0,724.3 L868.2,724.9 L871.4,725.4 L874.6,726.0 L877.7,726.5 L880.9,727.0 L884.1,727.6 L887.3,728.1 L890.5,728.6 L893.6,729.1 L896.8,729.6 L900.0,730.1 L903.2,730.6 L906.3,731.1 L909.5,731.6 L912.7,732.1 L915.9,732.6 L919.0,733.1 L922.2,733.6 L925.4,734.0 M983.8,742.0 L986.9,742.4 L990.1,742.8 L993.3,743.2 L996.5,743.6 L999.7,744.0 L1002.9,744.4 L1006.0,744.8 L1009.2,745.2 L1012.4,745.5 L1015.6,745.9 L1018.8,746.3 L1022.0,746.7 L1025.1,747.0 L1028.3,747.4 L1031.5,747.8 L1034.7,748.1 L1037.9,748.5 L1041.0,748.8 L1044.2,749.2 L1047.4,749.5 L1050.6,749.9 L1053.8,750.2 L1057.0,750.6 L1060.2,750.9 L1063.3,751.2 L1066.5,751.6 L1069.7,751.9 L1072.9,752.2 L1076.1,752.6 L1079.2,752.9 L1082.4,753.2 L1085.6,753.5 L1088.8,753.9 L1092.0,754.2 L1095.2,754.5 L1098.4,754.8 L1101.5,755.1 L1104.7,755.4 L1107.9,755.7 M1167.5,761.2 L1170.7,761.4 L1174.0,761.7 L1177.2,762.0 L1180.5,762.3 L1183.7,762.5 L1186.9,762.8 L1190.2,763.1 L1193.4,763.3 L1196.7,763.6 L1199.9,763.9 L1203.2,764.1 L1206.4,764.4 L1209.6,764.6 L1212.9,764.9 L1216.1,765.2 L1219.4,765.4 L1222.6,765.7 L1225.8,765.9 L1229.1,766.2 L1232.3,766.4 L1235.6,766.7 L1238.8,766.9 L1242.0,767.2 L1245.3,767.4 L1248.5,767.6 L1251.8,767.9 L1255.0,768.1 L1258.2,768.4 L1261.5,768.6 L1264.7,768.8 L1268.0,769.1 L1271.2,769.3 L1274.5,769.6 L1277.7,769.8 L1280.9,770.0 L1284.2,770.2 L1287.4,770.5 L1290.7,770.7 L1293.9,770.9 M1355.3,775.0 L1358.5,775.2 L1361.7,775.4 L1365.0,775.6 L1368.2,775.8 L1371.4,776.1 L1374.6,776.3 L1377.8,776.5 L1381.0,776.7 L1384.3,776.9 L1387.5,777.0 L1390.7,777.2 L1393.9,777.4 L1397.1,777.6 L1400.4,777.8 L1403.6,778.0 L1406.8,778.2 L1410.0,778.4 L1413.2,778.6 L1416.4,778.8 L1419.7,779.0 L1422.9,779.2 L1426.1,779.4 L1429.3,779.6 L1432.5,779.7 L1435.7,779.9 L1439.0,780.1 L1442.2,780.3 L1445.4,780.5 L1448.6,780.7 L1451.8,780.9 L1455.1,781.0 L1458.3,781.2 L1461.5,781.4 L1464.7,781.6 L1467.9,781.8 L1471.1,781.9 L1474.4,782.1 L1477.6,782.3 L1480.8,782.5 M1540.5,785.7 L1543.8,785.8 L1547.0,786.0 L1550.3,786.2 L1553.6,786.3 L1556.8,786.5 L1560.1,786.7 L1563.4,786.8 L1566.7,787.0 L1569.9,787.2 L1573.2,787.3 L1576.5,787.5 L1579.7,787.7 L1583.0,787.8 L1586.3,788.0 L1589.5,788.1 L1592.8,788.3 L1596.1,788.5 L1599.3,788.6 L1602.6,788.8 L1605.9,789.0 L1609.2,789.1 L1612.4,789.3 L1615.7,789.4 L1619.0,789.6 L1622.2,789.7 L1625.5,789.9 L1628.8,790.1 L1632.0,790.2 L1635.3,790.4 L1638.6,790.5 L1641.8,790.7 L1645.1,790.8 L1648.4,791.0 L1651.7,791.1 L1654.9,791.3 L1658.2,791.5 L1661.5,791.6 L1664.7,791.8 L1668.0,791.9" stroke="#0075b8" stroke-width="17.6"/>
</g>
<g font-family="'Liberation Serif',serif" fill="#000" style="font-kerning:none">
<text x="94.0" y="59.0" font-size="77.3" letter-spacing="-4.00">16</text>
<text x="94.0" y="154.8" font-size="77.3" letter-spacing="-5.00">14</text>
<text x="94.0" y="250.6" font-size="77.3" letter-spacing="-1.84">12</text>
<text x="94.0" y="346.4" font-size="77.3" letter-spacing="-2.46">10</text>
<text x="126.9" y="442.2" font-size="77.3" letter-spacing="0.00">8</text>
<text x="126.2" y="538.0" font-size="77.3" letter-spacing="0.00">6</text>
<text x="126.2" y="633.8" font-size="77.3" letter-spacing="0.00">4</text>
<text x="126.9" y="729.6" font-size="77.3" letter-spacing="0.00">2</text>
<text x="126.9" y="825.4" font-size="77.3" letter-spacing="0.00">0</text>
<text x="186.9" y="878.8" font-size="77.3" letter-spacing="0.00">0</text>
<text x="481.3" y="878.8" font-size="77.3" letter-spacing="-1.32">4,000</text>
<text x="832.9" y="878.8" font-size="77.3" letter-spacing="-1.33">8,000</text>
<text x="1168.0" y="878.8" font-size="77.3" letter-spacing="-1.51">12,000</text>
<text x="1517.5" y="878.8" font-size="77.3" letter-spacing="-1.19">16,000</text>
<text x="1867.0" y="878.8" font-size="77.3" letter-spacing="-0.95">20,000</text>
<text y="947.3" font-size="77"><tspan x="897.6" letter-spacing="-1.77">Speed </tspan><tspan x="1095.8" letter-spacing="-0.61">(rpm)</tspan></text>
<text transform="translate(69.3 622) rotate(-90)" x="-1.4" y="0" font-size="76.5" letter-spacing="-1.10">Torque (Nm)</text>
<text x="1506.1" y="117.1" font-size="68.4" letter-spacing="0.08">8-pole mode</text>
<text x="1504.4" y="195.7" font-size="68.4" letter-spacing="0.31">24-pole mode</text>
<text x="1460.8" y="278.3" font-size="68.4" letter-spacing="0.23">Operation curve</text>
</g>
<path fill="#000" fill-rule="evenodd" d="M1315.9,52.9H1934.4V222H1315.9Z M1319,56.9V218.2H1931.3V56.9Z"/>
<rect x="1362" y="94" width="111.8" height="9" rx="3.2" fill="#000"/>
<rect x="1362" y="166.4" width="111.8" height="9" rx="3.2" fill="#fe0000"/>
<path d="M1325.4,256.4H1430" fill="none" stroke="#0075b8" stroke-width="9" stroke-linecap="round" stroke-dasharray="8.1 15.9"/>
</svg>
</body>
</html>
